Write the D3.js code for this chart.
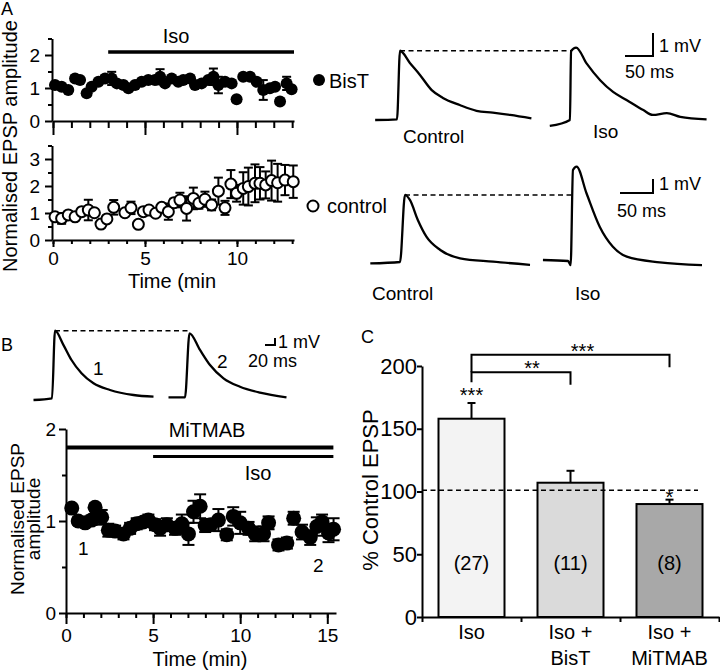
<!DOCTYPE html>
<html>
<head>
<meta charset="utf-8">
<script src="https://cdn.jsdelivr.net/npm/d3@7"></script>
<style>
body { margin: 0; background: #fff; }
svg { font-family: "Liberation Sans", Arial, sans-serif; }
.ax path, .ax line { stroke: #000; stroke-width: 2; }
.ax text { fill: #000; font-family: "Liberation Sans", Arial, sans-serif; }
</style>
</head>
<body>
<svg width="720" height="670"></svg>
<script>
// ---- panel A, BisT group (filled circles)
var bistTime = [0.11,0.47,0.83,1.20,1.47,1.83,2.10,2.47,2.83,3.19,3.47,3.83,4.10,4.46,4.82,5.18,5.54,5.82,6.09,6.45,
                6.81,7.08,7.45,7.72,8.08,8.44,8.72,8.99,9.35,9.71,9.98,10.34,10.71,11.07,11.43,11.79,12.07,12.34,12.70,12.97];
var bistAmp  = [1.09,1.04,0.94,1.29,1.24,0.84,1.04,1.19,1.29,1.29,1.14,1.09,0.99,1.09,1.19,1.24,1.24,1.34,1.14,1.29,
                1.19,1.24,1.29,1.09,1.14,1.24,1.34,1.09,1.19,1.14,0.66,1.34,1.34,1.19,0.94,0.99,1.04,0.59,1.14,0.96];
var bistErr  = [0.07,0.07,0.07,0.07,0.07,0.07,0.07,0.07,0.07,0.20,0.07,0.07,0.07,0.07,0.07,0.07,0.07,0.23,0.07,0.07,
                0.07,0.07,0.07,0.07,0.07,0.07,0.25,0.25,0.07,0.07,0.07,0.07,0.07,0.07,0.30,0.07,0.07,0.07,0.20,0.07];

// ---- panel A, control group (open circles)
var ctrlTime = [0.11,0.47,0.83,1.20,1.56,1.92,2.25,2.61,2.93,3.30,3.91,4.24,4.64,4.91,5.22,5.58,5.91,6.27,6.58,6.90,
                7.26,7.63,7.93,8.26,8.62,8.99,9.35,9.67,9.98,10.34,10.62,10.98,11.25,11.56,11.88,12.21,12.61,13.06];
var ctrlAmp  = [0.86,0.80,0.93,0.86,1.05,1.11,1.01,0.59,0.78,1.21,1.01,1.19,0.58,1.05,1.11,0.99,1.21,1.05,1.38,1.48,
                1.17,1.54,1.36,1.51,1.30,1.81,1.19,2.07,1.73,1.91,1.98,2.10,2.10,2.04,2.20,2.12,2.22,2.16];
var ctrlErr  = [0.10,0.20,0.10,0.10,0.10,0.38,0.12,0.08,0.10,0.27,0.10,0.23,0.08,0.10,0.10,0.10,0.12,0.30,0.15,0.27,
                0.45,0.40,0.20,0.28,0.20,0.50,0.26,0.52,0.31,0.60,0.70,0.70,0.60,0.50,0.74,0.70,0.56,0.60];

// ---- panel B, MiTMAB
var mitTime = [0.33,0.70,1.10,1.47,1.67,2.05,2.43,2.82,3.30,3.68,4.06,4.44,4.73,5.11,5.40,5.79,6.26,6.65,7.03,7.32,
               7.70,7.99,8.30,8.75,9.23,9.60,10.00,10.48,10.86,11.34,11.63,12.20,12.68,13.07,13.55,14.02,14.40,14.70,15.07,15.36];
var mitAmp  = [1.14,1.00,0.98,1.01,1.15,1.04,0.90,0.89,0.86,0.92,0.97,0.99,1.01,0.96,0.92,0.96,0.92,0.97,0.86,1.10,
               1.16,0.95,0.96,1.01,0.85,1.05,0.98,0.92,0.86,0.86,0.98,0.74,0.76,1.03,0.88,0.82,0.94,0.99,0.87,0.91];
var mitErr  = [0.03,0.04,0.04,0.05,0.04,0.08,0.07,0.06,0.06,0.06,0.06,0.05,0.06,0.06,0.08,0.07,0.07,0.10,0.12,0.12,
               0.13,0.07,0.06,0.12,0.06,0.10,0.12,0.07,0.08,0.08,0.07,0.06,0.06,0.07,0.08,0.08,0.10,0.08,0.10,0.12];

// ---- panel C
var barLabels = ["Iso", "Iso + BisT", "Iso + MiTMAB"];
var barLines  = [["Iso"], ["Iso +", "BisT"], ["Iso +", "MiTMAB"]];
var barValues = [158, 107, 90];
var barErrors = [12.5, 9.5, 3.5];
var barN      = ["(27)", "(11)", "(8)"];
var barFills  = ["#f3f3f3", "#dadada", "#a8a8a8"];

// ---- EPSP traces, [ms from onset, mV]
var traceBisCtrl = [[-39,-0.03],[0,0],[5.4,2.98],[23,2.45],[41,1.93],[62,1.27],[82,0.93],[112,0.62],[142,0.37],[171,0.29],[202,0.19],[240,0.04]];
var traceBisIso  = [[-37,-0.26],[-1,0],[1,3.0],[10,3.15],[29,2.45],[53,1.73],[76,1.22],[100,0.87],[130,0.43],[147,0.22],[172,0.30],[196,0.14],[243,0.03]];
var traceConCtrl = [[-45,-0.1],[0,0],[7.6,4.79],[15,4.43],[27,3.0],[40,1.81],[61,0.86],[91,0.26],[141,0.02],[197,-0.2]];
var traceConIso  = [[-41,0.07],[-3,0],[1,-0.3],[4.5,6.5],[10,6.74],[25,4.84],[45,2.45],[65,1.02],[86,0.31],[136,-0.1],[200,-0.3]];
var traceMit1    = [[-37,-0.24],[0,0],[6,9.66],[23,7.6],[39,5.47],[59,3.57],[83,2.14],[116,1.19],[163,0.47],[203,0.23]];
var traceMit2    = [[-33,0],[0,0],[9,9.14],[30,6.76],[50,4.61],[77,2.71],[110,1.51],[150,0.66],[203,0]];

var svg = d3.select("svg");

function txt(x, y, s, size, anchor) {
  return svg.append("text").attr("x", x).attr("y", y).attr("font-size", size)
    .attr("text-anchor", anchor || "start").text(s);
}

function xAxis(x, y0, minor, major, minorLen, majorLen, labels, pad) {
  svg.append("g").attr("class", "ax").attr("transform", "translate(0," + y0 + ")")
    .call(d3.axisBottom(x).tickValues(minor).tickSizeInner(minorLen).tickSizeOuter(0).tickFormat(""));
  var b = svg.append("g").attr("class", "ax").attr("transform", "translate(0," + y0 + ")")
    .call(d3.axisBottom(x).tickValues(major).tickSizeInner(majorLen).tickSizeOuter(0)
      .tickPadding(pad || 4).tickFormat(labels ? d3.format("d") : ""));
  b.select(".domain").remove();
  b.attr("font-size", 19);
}

function yAxis(y, x0, minor, major, minorLen, majorLen, pad, fs) {
  svg.append("g").attr("class", "ax").attr("transform", "translate(" + x0 + ",0)")
    .call(d3.axisLeft(y).tickValues(minor).tickSizeInner(minorLen).tickSizeOuter(0).tickFormat(""));
  var b = svg.append("g").attr("class", "ax").attr("transform", "translate(" + x0 + ",0)")
    .call(d3.axisLeft(y).tickValues(major).tickSizeInner(majorLen).tickSizeOuter(0)
      .tickPadding(pad).tickFormat(d3.format("d")));
  b.select(".domain").remove();
  b.attr("font-size", fs || 19);
}

function errBars(x, y, t, v, e, cap, sw) {
  var g = svg.append("g").attr("stroke", "#000").attr("stroke-width", sw);
  t.forEach(function(ti, i) {
    var cx = x(ti);
    g.append("line").attr("x1", cx).attr("x2", cx).attr("y1", y(v[i] - e[i])).attr("y2", y(v[i] + e[i]));
    [v[i] - e[i], v[i] + e[i]].forEach(function(yy) {
      g.append("line").attr("x1", cx - cap / 2).attr("x2", cx + cap / 2).attr("y1", y(yy)).attr("y2", y(yy));
    });
  });
}

function dots(x, y, t, v, r, fill) {
  svg.append("g").selectAll("circle").data(t).enter().append("circle")
    .attr("cx", function(d) { return x(d); })
    .attr("cy", function(d, i) { return y(v[i]); })
    .attr("r", r)
    .attr("fill", fill)
    .attr("stroke", "#000")
    .attr("stroke-width", fill === "#000" ? 0 : 2);
}

// ================= Panel A time courses
var minorA = d3.range(0, 14), majorA = [0, 5, 10];
var xA = d3.scaleLinear().domain([0, 13.1]).range([53, 294]);
var yAt = d3.scaleLinear().domain([0, 2.5]).range([121, 38.5]);
var yAb = d3.scaleLinear().domain([0, 3.5]).range([240, 145.5]);

yAxis(yAt, 52, [0.5, 1.5, 2.5], [0, 1, 2], 4, 7, 5);
xAxis(xA, 121, minorA, majorA, 7, 14, false);
yAxis(yAb, 52, [0.5, 1.5, 2.5, 3.5], [0, 1, 2, 3], 4, 7, 5);
xAxis(xA, 240, minorA, majorA, 4, 7, true, 5);

errBars(xA, yAt, bistTime, bistAmp, bistErr, 9, 2);
dots(xA, yAt, bistTime, bistAmp, 6, "#000");
errBars(xA, yAb, ctrlTime, ctrlAmp, ctrlErr, 9, 2);
dots(xA, yAb, ctrlTime, ctrlAmp, 5.5, "#fff");

svg.append("line").attr("x1", xA(3)).attr("x2", xA(13.1)).attr("y1", 52).attr("y2", 52)
  .attr("stroke", "#000").attr("stroke-width", 3.5);
txt(176, 43, "Iso", 20, "middle");

svg.append("circle").attr("cx", 319).attr("cy", 80).attr("r", 6).attr("fill", "#000");
txt(329, 88, "BisT", 20);
svg.append("circle").attr("cx", 313).attr("cy", 206).attr("r", 5.5).attr("fill", "#fff")
  .attr("stroke", "#000").attr("stroke-width", 2);
txt(327, 213, "control", 20);

svg.append("text").attr("transform", "translate(17,146) rotate(-90)").attr("text-anchor", "middle")
  .attr("font-size", 20).text("Normalised EPSP amplitude");
txt(172, 288, "Time (min", 20, "middle");
txt(1, 15, "A", 18);

// ================= EPSP traces
function trace(data, ox, oy, sx, sy) {
  var line = d3.line()
    .x(function(d) { return ox + sx(d[0]); })
    .y(function(d) { return oy + sy(d[1]); })
    .curve(d3.curveMonotoneX);
  svg.append("path").attr("d", line(data)).attr("fill", "none")
    .attr("stroke", "#000").attr("stroke-width", 2.3);
}
function peak(data) { return data.reduce(function(a, b) { return b[1] > a[1] ? b : a; }); }
function dashed(x1, x2, y) {
  svg.append("line").attr("x1", x1).attr("x2", x2).attr("y1", y).attr("y2", y)
    .attr("stroke", "#000").attr("stroke-width", 1.6).attr("stroke-dasharray", "5,3.5");
}
function scaleBar(x, y, w, h) {
  svg.append("path").attr("d", "M" + (x - w) + "," + y + "H" + x + "V" + (y - h))
    .attr("fill", "none").attr("stroke", "#000").attr("stroke-width", 2);
}

// BisT row
var msA1 = d3.scaleLinear().domain([0, 50]).range([0, 28]);
var mvA1 = d3.scaleLinear().domain([0, 1]).range([0, -23]);
trace(traceBisCtrl, 397, 119.3, msA1, mvA1);
trace(traceBisIso, 570.5, 120, msA1, mvA1);
var p1 = peak(traceBisCtrl);
dashed(397 + msA1(p1[0]), 570.5 + msA1(3), 119.3 + mvA1(p1[1]));
scaleBar(653, 56, msA1(50), -mvA1(1));
txt(659, 52, "1 mV", 18);
txt(625, 78, "50 ms", 18);
txt(403, 143, "Control", 19);
txt(593, 138, "Iso", 19);

// control row
var msA2 = d3.scaleLinear().domain([0, 50]).range([0, 33]);
var mvA2 = d3.scaleLinear().domain([0, 1]).range([0, -14]);
trace(traceConCtrl, 400, 262, msA2, mvA2);
trace(traceConIso, 570, 261, msA2, mvA2);
var p2 = peak(traceConCtrl);
dashed(400 + msA2(p2[0]), 570 + msA2(3), 262 + mvA2(p2[1]));
scaleBar(653, 193, msA2(50), -mvA2(1));
txt(659, 190, "1 mV", 18);
txt(617, 217, "50 ms", 18);
txt(372, 300, "Control", 19);
txt(575, 300, "Iso", 19);

// panel B traces
var msB = d3.scaleLinear().domain([0, 20]).range([0, 10]);
var mvB = d3.scaleLinear().domain([0, 1]).range([0, -7]);
trace(traceMit1, 52, 398.3, msB, mvB);
trace(traceMit2, 185, 397.3, msB, mvB);
var p3 = peak(traceMit1);
dashed(52 + msB(p3[0]), 185 + msB(8), 398.3 + mvB(p3[1]));
scaleBar(275, 345, msB(20), -mvB(1));
txt(278, 348, "1 mV", 18);
txt(248, 367, "20 ms", 18);
txt(93, 375, "1", 19);
txt(217, 368, "2", 19);
txt(1, 351, "B", 18);

// ================= Panel B time course
var xB = d3.scaleLinear().domain([0, 15.5]).range([66, 336]);
var yB = d3.scaleLinear().domain([0, 2]).range([613, 429]);
yAxis(yB, 66, [0.5, 1.5], [0, 1, 2], 4, 7, 3);
xAxis(xB, 613, d3.range(0, 16), [0, 5, 10, 15], 5, 11, true, 5);

errBars(xB, yB, mitTime, mitAmp, mitErr, 12, 2);
dots(xB, yB, mitTime, mitAmp, 7.5, "#000");

svg.append("line").attr("x1", xB(0)).attr("x2", xB(15.35)).attr("y1", yB(1.8)).attr("y2", yB(1.8))
  .attr("stroke", "#000").attr("stroke-width", 4);
svg.append("line").attr("x1", xB(5)).attr("x2", xB(15.35)).attr("y1", yB(1.7)).attr("y2", yB(1.7))
  .attr("stroke", "#000").attr("stroke-width", 3);
txt(207, 437, "MiTMAB", 20, "middle");
txt(258, 480, "Iso", 20, "middle");
txt(78, 555, "1", 19);
txt(313, 572, "2", 19);

svg.append("text").attr("transform", "translate(24,519) rotate(-90)").attr("text-anchor", "middle")
  .attr("font-size", 19).text("Normalised EPSP");
svg.append("text").attr("transform", "translate(40,519) rotate(-90)").attr("text-anchor", "middle")
  .attr("font-size", 19).text("amplitude");
txt(200, 666, "Time (min)", 20, "middle");

// ================= Panel C bars
var xC = d3.scaleBand().domain(barLabels).range([422, 719]).paddingInner(1 / 3).paddingOuter(1 / 6);
var yC = d3.scaleLinear().domain([0, 200]).range([617, 366]);

var ya = svg.append("g").attr("class", "ax").attr("transform", "translate(422,0)")
  .call(d3.axisLeft(yC).tickValues([0, 50, 100, 150, 200]).tickSizeInner(5).tickSizeOuter(0).tickPadding(0));
ya.attr("font-size", 22);

var bars = svg.append("g");
barLabels.forEach(function(b, i) {
  var cx = xC(b) + xC.bandwidth() / 2;
  bars.append("line").attr("x1", cx).attr("x2", cx)
    .attr("y1", yC(barValues[i])).attr("y2", yC(barValues[i] + barErrors[i]))
    .attr("stroke", "#000").attr("stroke-width", 2);
  bars.append("line").attr("x1", cx - 4).attr("x2", cx + 4)
    .attr("y1", yC(barValues[i] + barErrors[i])).attr("y2", yC(barValues[i] + barErrors[i]))
    .attr("stroke", "#000").attr("stroke-width", 2);
  bars.append("rect").attr("x", xC(b)).attr("width", xC.bandwidth())
    .attr("y", yC(barValues[i])).attr("height", yC(0) - yC(barValues[i]))
    .attr("fill", barFills[i]).attr("stroke", "#000").attr("stroke-width", 2);
  txt(cx, 570, barN[i], 20, "middle");
  barLines[i].forEach(function(s, j) { txt(cx, 639 + j * 26, s, 20, "middle"); });
});

// x axis of C with ticks at band edges
var xEdges = d3.scaleLinear().domain([0, 3]).range([422, 719]);
svg.append("g").attr("class", "ax").attr("transform", "translate(0,617)")
  .call(d3.axisBottom(xEdges).tickValues([0, 1, 2, 3]).tickSizeInner(5).tickSizeOuter(0).tickFormat(""));

dashed(422, 698, yC(101));

// significance
var c0 = xC(barLabels[0]) + xC.bandwidth() / 2,
    c1 = xC(barLabels[1]) + xC.bandwidth() / 2,
    c2 = xC(barLabels[2]) + xC.bandwidth() / 2;
var br = svg.append("g").attr("fill", "none").attr("stroke", "#000").attr("stroke-width", 2);
br.append("path").attr("d", "M" + c0 + "," + yC(187) + "V" + yC(195) + "H" + c1 + "V" + yC(185));
br.append("path").attr("d", "M" + c0 + "," + yC(195) + "V" + yC(209) + "H" + c2 + "V" + yC(199));
txt(c0, 402, "***", 20, "middle");
txt((c0 + c1) / 2 + 11, 375, "**", 20, "middle");
txt((c0 + c2) / 2 + 12, 358, "***", 20, "middle");
txt(c2, 504, "*", 20, "middle");

svg.append("text").attr("transform", "translate(378,490) rotate(-90)").attr("text-anchor", "middle")
  .attr("font-size", 22).text("% Control EPSP");
txt(361, 343, "C", 18);
</script>
</body>
</html>
